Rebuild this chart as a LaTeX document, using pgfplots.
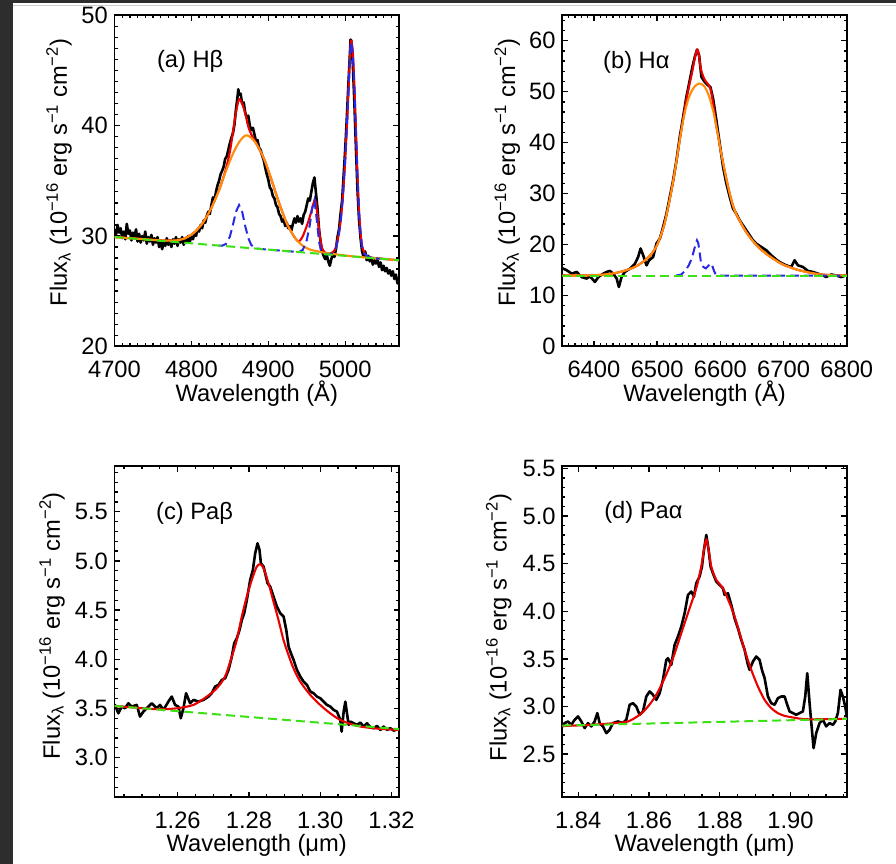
\documentclass[border=0pt]{standalone}
\usepackage{fontspec}
\setmainfont{Liberation Sans}
\usepackage{pgfplots}
\pgfplotsset{compat=1.18}
\definecolor{fitred}{RGB}{235,0,0}
\definecolor{fitorange}{RGB}{255,140,10}
\definecolor{fitblue}{RGB}{40,40,230}
\definecolor{fitgreen}{RGB}{60,225,20}
\definecolor{darkbg}{RGB}{45,45,45}
\newcommand{\fs}{\fontsize{23.7bp}{28bp}\selectfont}
\pgfplotsset{
  panel/.style={
    scale only axis, width=284.5bp, height=331bp, anchor=north west,
    axis line style={line width=1.8bp},
    every tick/.style={black, line width=1.3bp},
    major tick length=5.5bp, minor tick length=3bp,
    tick align=inside,
    tick label style={font=\fs},
    label style={font=\fs},
    /pgf/number format/assume math mode=true,
    /pgf/number format/1000 sep={},
    scaled ticks=false,
    yticklabel style={anchor=east, inner sep=0pt, xshift=-6.5bp},
    xticklabel style={anchor=base, inner sep=0pt, yshift=-31bp},
    xlabel style={at={(axis description cs:0.5,-0.166)}, anchor=base, inner sep=0pt},
    ylabel style={at={(axis description cs:-0.167,0.525)}, anchor=base, inner sep=0pt},
    ylabel={Flux\textsubscript{λ} (10\textsuperscript{−16} erg s\textsuperscript{−1} cm\textsuperscript{−2})},
  },
  spec/.style={black, line width=2.6bp, line join=round},
  fit/.style={line width=2.1bp, line join=round},
  dsh/.style={line width=2bp, dash pattern=on 9bp off 5bp},
}
\begin{document}
\begin{tikzpicture}
\useasboundingbox (0,0) rectangle (896bp,-864bp);
\fill[darkbg] (0,0) rectangle (13bp,-864bp);
\fill[darkbg] (0,0) rectangle (896bp,-3.3bp);
\draw[gray!40, line width=1bp] (13bp,-5.5bp) -- (896bp,-5.5bp);

% ---------------- (a) Hbeta
\begin{axis}[panel, at={(114.5bp,-15.3bp)},
  xmin=4700, xmax=5070, ymin=20, ymax=50,
  xtick={4700,4800,4900,5000}, ytick={20,30,40,50},
  minor xtick={4700,4710,...,5070}, minor ytick={20,21,...,50},
  xlabel={Wavelength (Å)}]
\addplot[spec] coordinates {(4700,30.6) (4702,30.1) (4704,31.0) (4706,30.3) (4708,30.7) (4710,29.8) (4712,30.4) (4714,29.7) (4716,31.1) (4718,30.2) (4720,30.5) (4722,29.6) (4724,30.3) (4726,29.9) (4728,30.6) (4730,29.5) (4732,30.2) (4734,29.4) (4736,30.0) (4738,29.6) (4740,30.4) (4742,29.3) (4744,29.9) (4746,29.5) (4748,30.1) (4750,29.2) (4752,29.8) (4754,29.4) (4756,29.9) (4758,29.0) (4760,29.6) (4762,28.8) (4764,29.5) (4766,29.1) (4768,29.8) (4770,29.2) (4772,29.6) (4774,29.0) (4776,29.7) (4778,29.3) (4780,29.9) (4782,29.1) (4784,29.7) (4786,29.4) (4788,29.9) (4790,29.2) (4792,29.6) (4794,29.4) (4796,30.0) (4798,29.5) (4800,29.9) (4802,29.7) (4804,30.3) (4806,30.0) (4808,30.6) (4810,30.4) (4812,31.0) (4814,30.7) (4816,31.4) (4818,31.2) (4820,31.8) (4822,32.2) (4824,32.0) (4826,32.8) (4828,33.5) (4830,33.2) (4832,34.0) (4834,34.6) (4836,35.0) (4838,35.6) (4840,35.9) (4842,36.3) (4844,37.0) (4846,37.2) (4848,37.8) (4850,38.4) (4852,38.9) (4854,39.3) (4856,40.1) (4858,41.5) (4860,42.6) (4861,43.3) (4862,42.8) (4864,42.9) (4866,42.0) (4868,42.1) (4870,41.2) (4872,40.7) (4874,40.9) (4876,40.0) (4878,39.6) (4880,39.8) (4882,39.2) (4884,38.6) (4886,38.7) (4888,38.0) (4890,37.8) (4892,37.3) (4894,36.9) (4896,36.2) (4898,35.6) (4900,35.1) (4902,34.4) (4904,34.2) (4906,33.6) (4908,33.4) (4910,32.8) (4912,32.6) (4914,32.0) (4916,31.8) (4918,31.3) (4920,31.5) (4922,30.9) (4924,31.2) (4926,30.7) (4928,30.9) (4930,30.5) (4932,31.1) (4934,31.6) (4936,31.2) (4938,31.8) (4940,31.3) (4942,31.6) (4944,31.1) (4946,31.9) (4948,32.2) (4950,32.8) (4952,33.4) (4954,33.2) (4956,34.0) (4958,34.8) (4960,35.3) (4962,33.9) (4964,32.5) (4966,30.6) (4968,29.5) (4970,28.6) (4972,28.2) (4974,27.9) (4976,28.3) (4978,27.7) (4980,27.3) (4982,27.9) (4984,28.4) (4986,28.1) (4988,28.8) (4990,29.9) (4992,30.6) (4994,32.0) (4996,33.2) (4998,35.5) (5000,37.8) (5002,40.5) (5004,43.5) (5006,46.3) (5007,47.8) (5008,47.7) (5010,45.5) (5012,42.0) (5014,38.0) (5016,34.2) (5018,31.5) (5020,29.8) (5022,28.6) (5024,28.1) (5026,28.6) (5028,27.8) (5030,28.2) (5032,27.7) (5034,28.0) (5036,27.4) (5038,27.8) (5040,27.5) (5042,27.9) (5044,27.2) (5046,27.6) (5048,26.9) (5050,27.3) (5052,26.8) (5054,27.1) (5056,26.6) (5058,26.9) (5060,26.4) (5062,26.8) (5064,26.1) (5066,26.5) (5068,25.7) (5070,26.0)};
\addplot[fit, fitred, smooth, tension=0.5] coordinates {(4700,29.9) (4720,29.8) (4740,29.7) (4760,29.6) (4775,29.58) (4785,29.65) (4795,29.9) (4805,30.4) (4815,31.2) (4825,32.4) (4835,34.0) (4840,34.95) (4845,36.1) (4850,37.6) (4854,39.4) (4858,41.2) (4862,42.4) (4866,42.0) (4870,41.1) (4874,39.9) (4878,39.2) (4885,38.3) (4895,36.9) (4905,34.9) (4915,32.8) (4925,31.0) (4935,29.8) (4940,29.5) (4945,30.0) (4951,31.1) (4955.5,32.1) (4959,33.0) (4961,33.25) (4964,31.9) (4967,30.0) (4970,28.9) (4974,28.5) (4980,28.4) (4985,28.6) (4988,29.0) (4991,29.9) (4994,31.3) (4997,33.6) (5000,36.9) (5003,41.1) (5005,44.4) (5007,47.3) (5008,47.7) (5010,46.6) (5012,43.6) (5014,39.6) (5016,35.6) (5018,32.3) (5020,30.3) (5022,29.1) (5025,28.5) (5030,28.1) (5050,27.92) (5070,27.8)};
\addplot[fit, fitorange, smooth] coordinates {(4700,29.9) (4720,29.8) (4740,29.7) (4760,29.6) (4775,29.58) (4785,29.65) (4795,29.9) (4805,30.4) (4815,31.2) (4825,32.4) (4835,34.0) (4845,35.9) (4855,37.6) (4863,38.6) (4870,39.1) (4876,39.0) (4885,38.3) (4895,36.9) (4905,34.9) (4915,32.8) (4925,31.0) (4935,29.8) (4945,29.1) (4955,28.75) (4965,28.6) (4975,28.45) (4990,28.32) (5010,28.15) (5030,28.03) (5050,27.92) (5070,27.8)};
\addplot[dsh, fitblue] coordinates {(4835,29.13) (4840,29.12) (4845,29.28) (4850,29.92) (4854,31.0) (4858,32.2) (4862,32.8) (4866,32.2) (4870,30.9) (4874,29.8) (4878,29.17) (4884,28.86) (4900,28.76) (4920,28.65) (4940,28.54) (4945,28.75) (4950,29.6) (4954,31.0) (4957,32.5) (4960,33.25) (4963,31.5) (4966,29.5) (4969,28.5) (4975,28.34) (4980,28.31) (4985,28.5) (4988,28.9) (4991,29.8) (4994,31.2) (4997,33.5) (5000,36.8) (5003,41.0) (5005,44.3) (5007,47.2) (5008,47.6) (5010,46.5) (5012,43.5) (5014,39.5) (5016,35.5) (5018,32.2) (5020,30.2) (5022,29.0) (5025,28.4) (5030,28.1) (5040,27.97) (5050,27.91)};
\addplot[dsh, fitgreen] coordinates {(4700,29.9) (5070,27.8)};
\node[anchor=base west, inner sep=0pt, font=\fs] at (rel axis cs:0.149,0.841) {(a) Hβ};
\end{axis}

% ---------------- (b) Halpha
\begin{axis}[panel, at={(562.3bp,-15.3bp)},
  xmin=6350, xmax=6800, ymin=0, ymax=65,
  xtick={6400,6500,6600,6700,6800}, ytick={0,10,20,30,40,50,60},
  minor xtick={6350,6360,...,6800}, minor ytick={0,2,...,64},
  xlabel={Wavelength (Å)},
  ylabel style={at={(axis description cs:-0.166,0.525)}}]
\addplot[spec] coordinates {(6350,15.3) (6351.6,15.25) (6357,14.93) (6365,14.27) (6372.7,14.6) (6380.6,13.6) (6388.5,13.3) (6393.7,13.75) (6401.6,12.64) (6407,13.6) (6414.8,14.27) (6420,14.6) (6425.3,14.8) (6430.6,14.27) (6436,13.3) (6439.5,11.65) (6443.7,13.6) (6449,14.6) (6457,15.25) (6464.8,16.2) (6470,17.55) (6473.8,19.2) (6477.9,17.9) (6483.2,15.9) (6487.4,16.9) (6493.7,17.55) (6499,20.2) (6504.3,21.15) (6509.5,23.44) (6514.8,26.05) (6520,29.33) (6525.3,32.6) (6530.6,36.53) (6535.8,41.1) (6541.1,45.04) (6546.3,49.0) (6551.6,52.24) (6555.8,54.86) (6559.5,56.8) (6563.2,58.26) (6566.4,57.15) (6570,52.9) (6575.3,51.9) (6580.6,51.25) (6584.3,50.9) (6588.5,48.64) (6593.7,44.4) (6599,39.8) (6604.3,35.2) (6609.5,31.95) (6614.8,29.33) (6620,27.04) (6625.3,26.05) (6630.6,24.74) (6635.8,23.76) (6641.1,22.78) (6646.4,21.8) (6651.6,20.82) (6656.9,20.16) (6664.8,19.5) (6672.7,18.85) (6680.6,17.87) (6688.5,17.02) (6693.7,16.56) (6699,16.2) (6704.3,15.9) (6712.2,15.58) (6717.4,16.9) (6722.7,15.9) (6730.6,15.58) (6738.5,14.8) (6746.3,14.6) (6754.3,14.27) (6762.2,13.94) (6767.4,13.6) (6775.3,14.1) (6783.2,13.9) (6791.1,13.6) (6799,13.94)};
\addplot[fit, fitred, smooth, tension=0.5] coordinates {(6350,13.9) (6400,13.95) (6430,14.3) (6450,14.9) (6465,15.6) (6480,16.8) (6490,18.0) (6500,19.9) (6510,23.3) (6515,25.9) (6520,28.9) (6525,32.2) (6530,35.9) (6538,42.3) (6545,47.6) (6550,50.8) (6555,53.6) (6559,56.2) (6563,58.3) (6565,57.8) (6567,56.3) (6569,54.5) (6573,52.95) (6577,52.0) (6581,51.4) (6584,50.7) (6587,48.9) (6590,46.4) (6593,43.6) (6596,41.7) (6600,38.8) (6605,35.6) (6610,32.6) (6615,29.9) (6620,27.6) (6625,26.0) (6630,24.8) (6640,22.6) (6650,20.9) (6660,19.5) (6670,18.4) (6680,17.5) (6690,16.7) (6700,16.0) (6720,15.1) (6740,14.5) (6760,14.1) (6780,13.95) (6800,13.9)};
\addplot[fit, fitorange, smooth] coordinates {(6350,13.9) (6400,13.95) (6430,14.3) (6450,14.9) (6465,15.6) (6480,16.8) (6490,18.0) (6500,19.9) (6510,23.3) (6515,25.9) (6520,28.9) (6525,32.2) (6530,35.9) (6535,39.9) (6540,43.6) (6545,46.6) (6550,48.8) (6555,50.2) (6560,51.1) (6565,51.55) (6568,51.6) (6572,51.35) (6575,51.0) (6580,49.8) (6585,47.9) (6590,45.5) (6595,42.3) (6600,38.8) (6605,35.6) (6610,32.6) (6615,29.9) (6620,27.6) (6625,26.0) (6630,24.8) (6640,22.6) (6650,20.9) (6660,19.5) (6670,18.4) (6680,17.5) (6690,16.7) (6700,16.0) (6720,15.1) (6740,14.5) (6760,14.1) (6780,13.95) (6800,13.9)};
\addplot[dsh, fitblue] coordinates {(6530,13.9) (6538,14.1) (6545,14.9) (6550,15.9) (6555,17.3) (6559,19.2) (6563,20.8) (6565,20.3) (6567,18.6) (6569,16.8) (6573,15.6) (6577,15.3) (6581,15.8) (6584,16.3) (6587,15.9) (6590,14.8) (6593,14.0) (6596,13.9) (6790,13.9)};
\addplot[dsh, fitgreen] coordinates {(6350,13.9) (6800,13.9)};
\node[anchor=base west, inner sep=0pt, font=\fs] at (rel axis cs:0.143,0.840) {(b) Hα};
\end{axis}

% ---------------- (c) Pabeta
\begin{axis}[panel, at={(114.5bp,-466bp)},
  xmin=1.2423, xmax=1.3221, ymin=2.6, ymax=5.965,
  xtick={1.26,1.28,1.30,1.32}, ytick={3,3.5,4,4.5,5,5.5},
  minor xtick={1.245,1.25,1.255,1.265,1.27,1.275,1.285,1.29,1.295,1.305,1.31,1.315},
  minor ytick={2.6,2.7,2.8,2.9,3.1,3.2,3.3,3.4,3.6,3.7,3.8,3.9,4.1,4.2,4.3,4.4,4.6,4.7,4.8,4.9,5.1,5.2,5.3,5.4,5.6,5.7,5.8,5.9},
  xticklabel style={/pgf/number format/fixed, /pgf/number format/fixed zerofill, /pgf/number format/precision=2},
  yticklabel style={/pgf/number format/fixed, /pgf/number format/fixed zerofill, /pgf/number format/precision=1},
  xlabel={Wavelength (μm)},
  ylabel style={at={(axis description cs:-0.1916,0.517)}}]
\addplot[spec] coordinates {(1.2423,3.50) (1.24244,3.536) (1.24338,3.451) (1.24431,3.519) (1.24525,3.502) (1.24619,3.553) (1.24712,3.519) (1.24853,3.536) (1.24946,3.418) (1.25040,3.468) (1.25180,3.519) (1.25274,3.553) (1.25414,3.502) (1.25508,3.536) (1.25602,3.485) (1.25742,3.570) (1.25836,3.621) (1.25929,3.536) (1.26023,3.519) (1.26089,3.401) (1.26163,3.502) (1.26238,3.655) (1.26351,3.553) (1.26444,3.587) (1.26585,3.570) (1.26726,3.587) (1.26866,3.621) (1.26959,3.655) (1.27053,3.723) (1.27147,3.739) (1.27240,3.790) (1.27334,3.807) (1.27428,3.892) (1.27521,4.027) (1.27587,4.163) (1.27662,4.214) (1.27737,4.298) (1.27802,4.400) (1.27868,4.468) (1.27942,4.603) (1.28036,4.806) (1.28111,4.908) (1.28176,5.077) (1.28242,5.179) (1.28298,5.111) (1.28336,4.976) (1.28411,4.942) (1.28457,4.874) (1.28523,4.773) (1.28598,4.739) (1.28692,4.637) (1.28785,4.535) (1.28879,4.468) (1.28973,4.434) (1.29048,4.298) (1.29113,4.129) (1.29179,4.061) (1.29254,3.993) (1.29347,3.892) (1.29441,3.824) (1.29534,3.773) (1.29628,3.739) (1.29721,3.672) (1.29815,3.655) (1.29909,3.621) (1.30002,3.604) (1.30096,3.570) (1.30190,3.536) (1.30283,3.519) (1.30377,3.485) (1.30470,3.468) (1.30564,3.384) (1.30601,3.265) (1.30658,3.468) (1.30705,3.570) (1.30751,3.451) (1.30798,3.333) (1.30845,3.367) (1.30939,3.350) (1.31032,3.333) (1.31126,3.357) (1.31220,3.316) (1.31313,3.350) (1.31407,3.309) (1.31500,3.299) (1.31594,3.323) (1.31688,3.282) (1.31781,3.316) (1.31875,3.282) (1.31968,3.299) (1.32062,3.275) (1.32174,3.289) (1.3221,3.29)};
\addplot[fit, fitred, smooth] coordinates {(1.2423,3.525) (1.2504,3.502) (1.2551,3.492) (1.2598,3.502) (1.2644,3.536) (1.2682,3.621) (1.2710,3.706) (1.2733,3.824) (1.2752,4.027) (1.2766,4.197) (1.2780,4.434) (1.2794,4.637) (1.2808,4.806) (1.2822,4.942) (1.2832,4.966) (1.2841,4.925) (1.2855,4.773) (1.2869,4.586) (1.2883,4.400) (1.2897,4.197) (1.2911,4.044) (1.2925,3.909) (1.2944,3.773) (1.2972,3.638) (1.3000,3.536) (1.3028,3.451) (1.3056,3.384) (1.3085,3.343) (1.3113,3.316) (1.3159,3.296) (1.3221,3.282)};
\addplot[dsh, fitgreen] coordinates {(1.2423,3.525) (1.3221,3.29)};
\node[anchor=base west, inner sep=0pt, font=\fs] at (rel axis cs:0.146,0.839) {(c) Paβ};
\end{axis}

% ---------------- (d) Paalpha
\begin{axis}[panel, at={(562.3bp,-466bp)},
  xmin=1.8355, xmax=1.9159, ymin=2.05, ymax=5.525,
  xtick={1.84,1.86,1.88,1.90}, ytick={2.5,3,3.5,4,4.5,5,5.5},
  minor xtick={1.845,1.85,1.855,1.865,1.87,1.875,1.885,1.89,1.895,1.905,1.91,1.915},
  minor ytick={2.1,2.2,2.3,2.4,2.6,2.7,2.8,2.9,3.1,3.2,3.3,3.4,3.6,3.7,3.8,3.9,4.1,4.2,4.3,4.4,4.6,4.7,4.8,4.9,5.1,5.2,5.3,5.4},
  xticklabel style={/pgf/number format/fixed, /pgf/number format/fixed zerofill, /pgf/number format/precision=2},
  yticklabel style={/pgf/number format/fixed, /pgf/number format/fixed zerofill, /pgf/number format/precision=1},
  xlabel={Wavelength (μm)},
  ylabel style={at={(axis description cs:-0.1954,0.512)}}]
\addplot[spec] coordinates {(1.8355,2.79) (1.83617,2.826) (1.83711,2.843) (1.83805,2.808) (1.83899,2.861) (1.83993,2.896) (1.84088,2.843) (1.84182,2.773) (1.84276,2.826) (1.84370,2.791) (1.84464,2.843) (1.84540,2.931) (1.84606,2.826) (1.84700,2.791) (1.84794,2.721) (1.84888,2.756) (1.84982,2.826) (1.85123,2.843) (1.85265,2.826) (1.85359,2.861) (1.85453,3.018) (1.85547,3.035) (1.85641,3.000) (1.85735,2.913) (1.85830,2.948) (1.85924,3.105) (1.86018,3.158) (1.86112,3.123) (1.86206,3.070) (1.86300,3.140) (1.86394,3.280) (1.86489,3.490) (1.86536,3.507) (1.86630,3.437) (1.86724,3.647) (1.86818,3.735) (1.86913,3.840) (1.87007,3.979) (1.87101,4.172) (1.87195,4.207) (1.87270,4.154) (1.87336,4.294) (1.87430,4.364) (1.87496,4.469) (1.87553,4.644) (1.87619,4.801) (1.87685,4.644) (1.87741,4.469) (1.87807,4.399) (1.87901,4.312) (1.87995,4.277) (1.88089,4.242) (1.88137,4.172) (1.88231,4.189) (1.88325,4.067) (1.88419,3.927) (1.88513,3.822) (1.88607,3.700) (1.88701,3.595) (1.88795,3.438) (1.88843,3.385) (1.88937,3.472) (1.89031,3.525) (1.89125,3.490) (1.89191,3.385) (1.89267,3.298) (1.89361,3.105) (1.89455,3.035) (1.89549,3.018) (1.89643,3.088) (1.89737,3.105) (1.89832,3.105) (1.89907,3.018) (1.89973,2.948) (1.90067,2.931) (1.90161,2.913) (1.90255,2.931) (1.90349,2.948) (1.90415,3.105) (1.90472,3.350) (1.90538,3.035) (1.90604,2.756) (1.90651,2.563) (1.90726,2.721) (1.90820,2.826) (1.90914,2.861) (1.91008,2.791) (1.91103,2.826) (1.91197,2.808) (1.91263,2.843) (1.91338,2.931) (1.91413,3.175) (1.91479,3.105) (1.91545,3.000) (1.9159,2.90)};
\addplot[fit, fitred, smooth] coordinates {(1.8355,2.795) (1.84370,2.808) (1.85029,2.826) (1.85406,2.843) (1.85735,2.913) (1.85971,3.000) (1.86206,3.123) (1.86442,3.298) (1.86677,3.507) (1.86913,3.770) (1.87148,4.032) (1.87336,4.242) (1.87477,4.469) (1.87553,4.644) (1.87619,4.756) (1.87685,4.644) (1.87760,4.469) (1.87901,4.329) (1.88089,4.242) (1.88278,4.084) (1.88419,3.944) (1.88560,3.770) (1.88701,3.595) (1.88890,3.385) (1.89078,3.210) (1.89267,3.070) (1.89455,2.983) (1.89643,2.930) (1.89832,2.902) (1.90020,2.888) (1.90397,2.867) (1.90961,2.867) (1.9159,2.872)};
\addplot[dsh, fitgreen] coordinates {(1.8355,2.80) (1.9159,2.87)};
\node[anchor=base west, inner sep=0pt, font=\fs] at (rel axis cs:0.147,0.842) {(d) Paα};
\end{axis}
\end{tikzpicture}
\end{document}
